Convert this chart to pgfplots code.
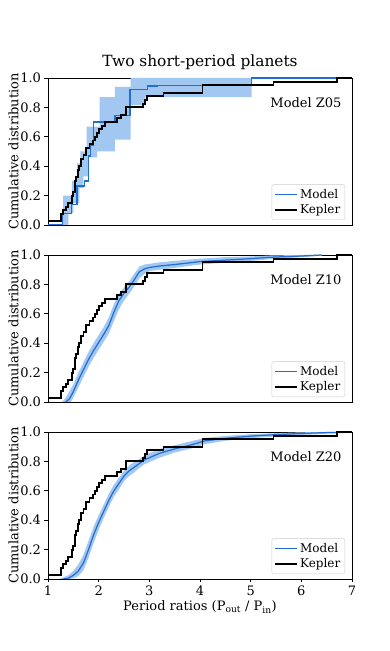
\documentclass[border=0pt]{standalone}
\usepackage{pgfplots}
\usepackage{pgfplotstable}
\pgfplotsset{compat=1.18}
\usepackage{fontspec}
\setmainfont{DejaVu Serif}
\definecolor{modelblue}{RGB}{35,110,210}
\definecolor{bandblue}{RGB}{162,200,241}

\pgfplotstableread{
x y
1.00 0.025
1.25 0.075
1.30 0.100
1.35 0.125
1.40 0.150
1.47 0.200
1.50 0.225
1.53 0.300
1.56 0.325
1.59 0.375
1.62 0.400
1.66 0.450
1.70 0.475
1.75 0.525
1.82 0.550
1.88 0.575
1.92 0.600
1.97 0.625
2.01 0.650
2.07 0.675
2.13 0.700
2.36 0.725
2.44 0.750
2.54 0.800
2.87 0.825
2.92 0.850
2.96 0.875
3.28 0.900
4.05 0.950
5.45 0.975
6.70 1.000
7.00 1.000
}\kepler

\pgfplotsset{
 panel/.style={
  scale only axis, width=304pt, height=147pt,
  xmin=1, xmax=7, ymin=0, ymax=1,
  ytick={0,0.2,0.4,0.6,0.8,1.0},
  yticklabel style={/pgf/number format/fixed, /pgf/number format/fixed zerofill, /pgf/number format/precision=1},
  /pgf/number format/assume math mode=true,
  tick align=outside, major tick length=3.5pt,
  tick pos=left,
  tick style={black, line width=0.6pt},
  axis line style={line width=0.7pt},
  ticklabel style={font=\fontsize{13}{15}\selectfont},
  label style={font=\fontsize{13}{15}\selectfont},
  ylabel={Cumulative distribution},
  ylabel style={at={(axis description cs:-0.113,0.5)}, anchor=center},
  legend style={at={(axis description cs:0.977,0.034)}, anchor=south east, draw=black!20, rounded corners=2pt, font=\fontsize{12}{14}\selectfont, inner sep=2.5pt, row sep=1pt, cells={anchor=west}},
  legend image code/.code={\draw[##1] (0pt,0pt) -- (22pt,0pt);},
 },
 kep/.style={black, line width=1.9pt, const plot},
 mod/.style={modelblue, line width=1.25pt},
}

\begin{document}
\begin{tikzpicture}
\path[use as bounding box] (0,0) rectangle (390pt,651pt);

% ---------- Panel 1: Z05
\begin{axis}[panel, at={(48pt,426pt)}, anchor=south west, xtick=\empty,
  title={Two short-period planets},
  title style={font=\fontsize{15.4}{18}\selectfont, at={(axis description cs:0.5,1)}, anchor=base, yshift=5pt}]
\addplot[fill=bandblue, draw=none, forget plot] coordinates {
(1.27,0) (1.27,0.05) (1.30,0.05) (1.30,0.2) (1.47,0.2) (1.47,0.30) (1.57,0.30) (1.57,0.42)
(1.64,0.42) (1.64,0.5) (1.76,0.5) (1.76,0.67) (2.02,0.67) (2.02,0.87) (2.32,0.87) (2.32,0.94)
(2.63,0.94) (2.63,1.0) (5.02,1.0)
(5.02,0.87) (2.92,0.87) (2.92,0.816) (2.63,0.816) (2.63,0.58) (2.32,0.58) (2.32,0.50)
(1.97,0.50) (1.97,0.46) (1.80,0.46) (1.80,0.33) (1.70,0.33) (1.70,0.25) (1.62,0.25)
(1.62,0.15) (1.50,0.15) (1.50,0.08) (1.40,0.08) (1.40,0)} -- cycle;
\addplot[mod, const plot] coordinates {
(1.0,0) (1.28,0.08) (1.46,0.14) (1.57,0.265) (1.72,0.30) (1.80,0.47) (1.84,0.54) (1.90,0.70)
(2.32,0.745) (2.62,0.92) (2.97,0.945) (3.15,0.95) (5.02,1.0) (7.0,1.0)};
\addlegendentry{Model}
\addplot[kep] table {\kepler};
\addlegendentry{Kepler}
\node[anchor=east, inner sep=0pt, font=\fontsize{13}{15}\selectfont] at (axis description cs:0.966,0.83) {Model Z05};
\end{axis}

% ---------- Panel 2: Z10
\begin{axis}[panel, at={(48pt,249pt)}, anchor=south west, xtick=\empty]
\addplot[fill=bandblue, draw=none, forget plot] coordinates {
(1.28,0) (1.35,0.03) (1.42,0.07) (1.5,0.12) (1.6,0.20) (1.7,0.27) (1.8,0.34) (1.9,0.40)
(2.0,0.455) (2.1,0.51) (2.2,0.575) (2.3,0.665) (2.4,0.735) (2.5,0.78) (2.6,0.82) (2.7,0.87)
(2.8,0.92) (2.9,0.935) (3.0,0.94) (3.2,0.95) (3.5,0.96) (4.0,0.975) (4.5,0.985) (5.0,0.99)
(5.4,0.997) (6.0,1.0) (6.4,1.0)
(6.4,0.995) (6.0,0.985) (5.4,0.972) (5.0,0.96) (4.5,0.948) (4.0,0.935) (3.5,0.912) (3.2,0.90)
(3.0,0.89) (2.9,0.87) (2.8,0.84) (2.7,0.785) (2.6,0.735) (2.5,0.69) (2.4,0.63) (2.3,0.55)
(2.2,0.465) (2.1,0.41) (2.0,0.355) (1.9,0.30) (1.8,0.24) (1.7,0.17) (1.6,0.10) (1.5,0.03)
(1.45,0) } -- cycle;
\addplot[mod] coordinates {
(1.35,0) (1.42,0.02) (1.5,0.07) (1.6,0.15) (1.7,0.22) (1.8,0.29) (1.9,0.35) (2.0,0.405)
(2.1,0.46) (2.2,0.52) (2.3,0.61) (2.4,0.69) (2.5,0.74) (2.6,0.78) (2.7,0.83) (2.8,0.885)
(2.9,0.905) (3.0,0.915) (3.2,0.925) (3.5,0.935) (4.0,0.955) (4.5,0.965) (5.0,0.975)
(5.4,0.985) (6.0,0.993) (6.4,1.0)};
\addlegendentry{Model}
\addplot[kep] table {\kepler};
\addlegendentry{Kepler}
\node[anchor=east, inner sep=0pt, font=\fontsize{13}{15}\selectfont] at (axis description cs:0.966,0.83) {Model Z10};
\end{axis}

% ---------- Panel 3: Z20
\begin{axis}[panel, at={(48pt,72pt)}, anchor=south west, xtick={1,2,3,4,5,6,7},
  xlabel={Period ratios (P\textsubscript{out} / P\textsubscript{in})},
  xlabel style={at={(axis description cs:0.5,0)}, anchor=center, yshift=-28pt}]
\addplot[fill=bandblue, draw=none, forget plot] coordinates {
(1.22,0) (1.3,0.01) (1.4,0.025) (1.5,0.055) (1.6,0.10) (1.7,0.165) (1.8,0.26) (1.9,0.355)
(2.0,0.435) (2.1,0.505) (2.2,0.58) (2.3,0.64) (2.4,0.69) (2.5,0.735) (2.6,0.77) (2.7,0.795)
(2.8,0.815) (2.9,0.84) (3.0,0.855) (3.2,0.885) (3.5,0.91) (3.8,0.935) (4.1,0.96) (4.5,0.973)
(5.0,0.985) (5.5,0.992) (6.0,0.998) (6.5,1.0) (7.0,1.0)
(7.0,0.995) (6.5,0.988) (6.0,0.98) (5.5,0.97) (5.0,0.958) (4.5,0.94) (4.1,0.918) (3.8,0.885)
(3.5,0.86) (3.2,0.825) (3.0,0.795) (2.9,0.78) (2.8,0.755) (2.7,0.725) (2.6,0.70) (2.5,0.665)
(2.4,0.61) (2.3,0.56) (2.2,0.49) (2.1,0.415) (2.0,0.335) (1.9,0.245) (1.8,0.145) (1.7,0.06)
(1.6,0.02) (1.5,0.005) (1.42,0) } -- cycle;
\addplot[mod] coordinates {
(1.3,0) (1.4,0.005) (1.5,0.025) (1.6,0.055) (1.7,0.11) (1.8,0.2) (1.9,0.3) (2.0,0.385)
(2.1,0.46) (2.2,0.535) (2.3,0.6) (2.4,0.65) (2.5,0.7) (2.6,0.735) (2.7,0.76) (2.8,0.785)
(2.9,0.81) (3.0,0.825) (3.2,0.855) (3.5,0.885) (3.8,0.91) (4.1,0.94) (4.5,0.957) (5.0,0.972)
(5.5,0.982) (6.0,0.99) (6.5,0.996) (7.0,1.0)};
\addlegendentry{Model}
\addplot[kep] table {\kepler};
\addlegendentry{Kepler}
\node[anchor=east, inner sep=0pt, font=\fontsize{13}{15}\selectfont] at (axis description cs:0.966,0.83) {Model Z20};
\end{axis}
\end{tikzpicture}
\end{document}
